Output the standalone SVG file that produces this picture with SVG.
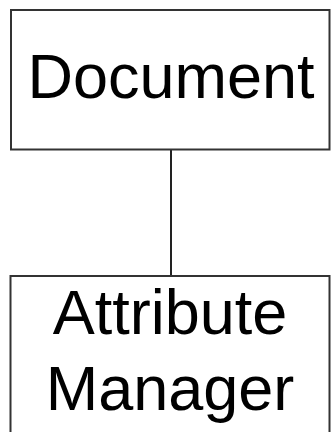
<svg xmlns="http://www.w3.org/2000/svg" width="331" height="432" viewBox="0 0 331 432">
<style>
.box{fill:#fff;stroke:#333;stroke-width:2}
.lbl{font-family:"Liberation Sans",Arial,sans-serif;font-size:63px;fill:#000;text-anchor:middle}
.conn{stroke:#222;stroke-width:2;fill:none}
</style>
<rect width="331" height="432" fill="#fff"/>
<g id="connectors">
<line class="conn" x1="171" y1="150" x2="171" y2="276"/>
</g>
<g id="document">
<rect class="box" x="11" y="10" width="318.5" height="139.5"/>
<text class="lbl" x="171" y="98">Document</text>
</g>
<g id="attribute-manager">
<rect class="box" x="10.5" y="276" width="319" height="170"/>
<text class="lbl" x="170" y="334">Attribute</text>
<text class="lbl" x="170" y="410">Manager</text>
</g>
</svg>
